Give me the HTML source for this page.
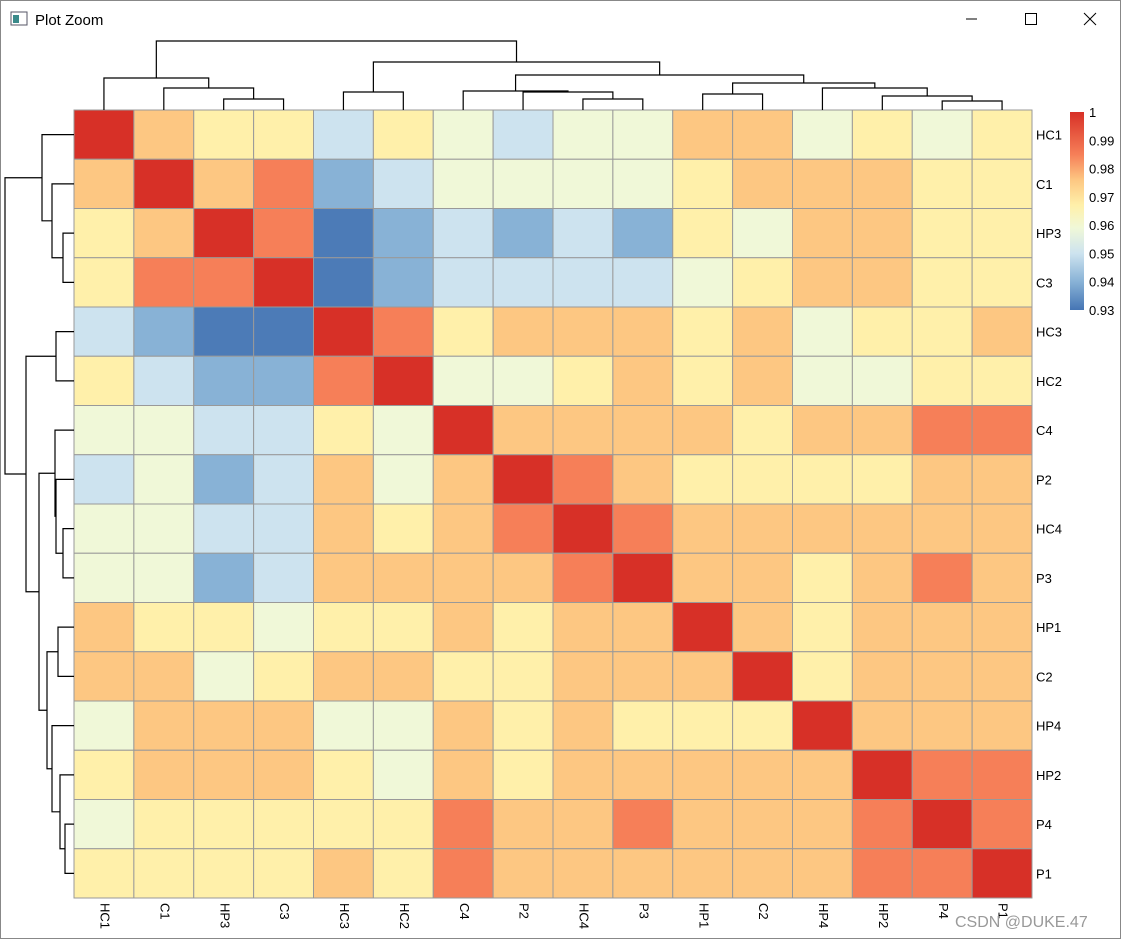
<!DOCTYPE html>
<html><head><meta charset="utf-8"><style>
body{margin:0;width:1121px;height:939px;background:#fff;overflow:hidden;font-family:"Liberation Sans",Arial,sans-serif;}
#win{position:absolute;left:0;top:0;width:1119px;height:937px;border:1px solid #888;background:#fff;}
</style></head><body>
<div id="win"></div>
<svg id="svg" width="1121" height="939" style="position:absolute;left:0;top:0">
 <g>
  <rect x="11" y="12" width="16" height="13" fill="#fff" stroke="#556" stroke-width="1"/>
  <rect x="13" y="15" width="6" height="8" fill="#3a8a8a"/>
  <text x="35" y="25" font-size="15" fill="#000">Plot Zoom</text>
  <line x1="966" y1="19" x2="977" y2="19" stroke="#000"/>
  <rect x="1025.5" y="13.5" width="11" height="11" fill="none" stroke="#000"/>
  <path d="M1084 13 L1096 25 M1096 13 L1084 25" stroke="#000"/>
 </g>
 <g id="cells"></g><g id="dendro"></g><g id="labels"></g>
 <defs><linearGradient id="lg" x1="0" y1="1" x2="0" y2="0" id2=""></linearGradient></defs>
 <g id="legend"></g>
 <text x="955" y="927" font-size="16" fill="#999">CSDN @DUKE.47</text>
</svg>
<script>
const names=["HC1","C1","HP3","C3","HC3","HC2","C4","P2","HC4","P3","HP1","C2","HP4","HP2","P4","P1"];
const levels={R:1,O:0.985,L:0.976,Y:0.967,G:0.959,B:0.95,M:0.94,D:0.931};
const rowsCodes=[
"RLYYBYGBGGLLGYGY","LRLOMBGGGGYLLLYY","YLRODMBMBMYGLLYY","YOORDMBBBBGYLLYY",
"BMDDROYLLLYLGYYL","YBMMORGGYLYLGGYY","GGBBYGRLLLLYLLOO","BGMBLGLROLYYYYLL",
"GGBBLYLOROLLLLLL","GGMBLLLLORLLYLOL","LYYGYYLYLLRLYLLL","LLGYLLYYLLLRYLLL",
"GLLLGGLYLYYYRLLL","YLLLYGLYLLLLLROO","GYYYYYOLLOLLLORO","YYYYLYOLLLLLLOOR"];
const matrix=rowsCodes.map(r=>r.split('').map(c=>levels[c]));
const legendTicks=[1,0.99,0.98,0.97,0.96,0.95,0.94,0.93];
// tree: [left,right,height]
const tree=[[0,[1,[2,3,11],22],32],[[4,5,18],[[6,[7,[8,9,11],18],19],[[10,11,16],[12,[13,[14,15,9],14],22],27],35],48],69];
const stops=[[0.93,[69,117,180]],[0.94,[136,178,214]],[0.95,[205,227,239]],[0.959,[240,248,216]],[0.967,[255,240,170]],[0.976,[253,199,130]],[0.985,[246,127,88]],[1,[215,48,39]]];
function col(v){for(let i=1;i<stops.length;i++){if(v<=stops[i][0]){const a=stops[i-1],b=stops[i];const t=Math.max(0,(v-a[0])/(b[0]-a[0]));return 'rgb('+a[1].map((c,k)=>Math.round(c+(b[1][k]-c)*t)).join(',')+')';}}return 'rgb(215,48,39)';}
const X0=74,Y0=110,CW=(1032-74)/16,CH=(898-110)/16,NS="http://www.w3.org/2000/svg";
const xs=i=>X0+CW*i, ys=i=>Y0+CH*i;
function mk(t,a,p){const e=document.createElementNS(NS,t);for(const k in a)e.setAttribute(k,a[k]);p.appendChild(e);return e;}
const cells=document.getElementById('cells');
matrix.forEach((row,r)=>row.forEach((v,c)=>{const e=mk('rect',{x:xs(c),y:ys(r),width:CW,height:CH,fill:col(v),stroke:'#999','stroke-width':1},cells);

}));
const lab=document.getElementById('labels');
names.forEach((n,i)=>{const t=mk('text',{x:1036,y:ys(i)+CH/2+5,'font-size':13},lab);t.textContent=n;


const cx=xs(i)+CW/2;const u=mk('text',{x:cx,y:903,'font-size':13,transform:'rotate(90 '+cx+' 903)','dominant-baseline':'middle'},lab);u.textContent=n;

});
// dendrograms
const dg=document.getElementById('dendro');
function draw(node,horiz){ // returns [pos,height]
 if(typeof node==='number')return [node+0.5,0];
 const a=draw(node[0],horiz),b=draw(node[1],horiz),h=node[2];
 let d;
 if(!horiz){const f=p=>X0+CW*p,g=hh=>Y0-hh;
  d=`M${f(a[0])} ${g(a[1])}V${g(h)}H${f(b[0])}V${g(b[1])}`;}
 else{const f=p=>Y0+CH*p,g=hh=>X0-hh;
  d=`M${g(a[1])} ${f(a[0])}H${g(h)}V${f(b[0])}H${g(b[1])}`;}
 const p=mk('path',{d:d,fill:'none',stroke:'#000','stroke-width':1.2},dg);
 
 
 return [(a[0]+b[0])/2,h];}
draw(tree,false);draw(tree,true);
// legend
const lg=document.getElementById('lg');
stops.forEach(s=>mk('stop',{offset:((s[0]-0.93)/0.07*100)+'%','stop-color':col(s[0])},lg));
const leg=document.getElementById('legend');
const LT=112,LB=310;
const bar=mk('rect',{x:1070,y:LT,width:14,height:LB-LT,fill:'url(#lg)'},leg);


legendTicks.forEach(v=>{const y=LB-(v-0.93)/0.07*(LB-LT);const t=mk('text',{x:1089,y:y+5,'font-size':13},leg);t.textContent=String(v);

});
</script>
</body></html>
